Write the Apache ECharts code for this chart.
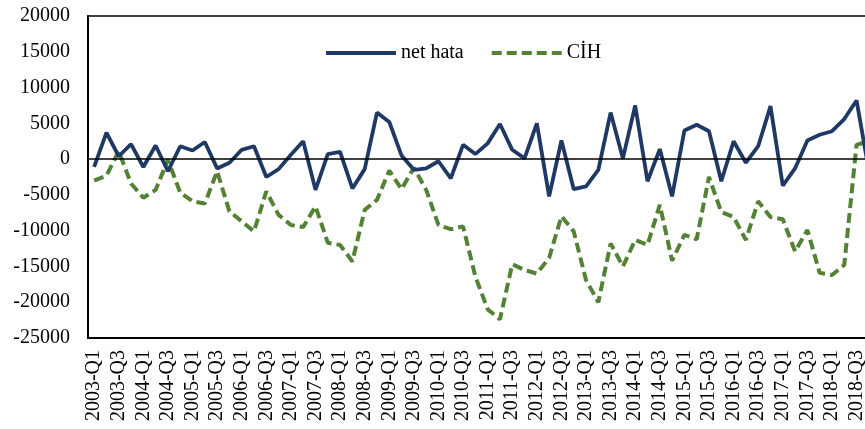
<!DOCTYPE html>
<html>
<head>
<meta charset="utf-8">
<script src="https://cdn.jsdelivr.net/npm/echarts@6/dist/echarts.min.js"></script>
<style>
  html, body { margin: 0; padding: 0; background: #fff; overflow: hidden; }
  /* the plot runs a little past the right edge of the window */
  #chart { width: 875px; height: 429px; }
</style>
</head>
<body>
<div id="chart"></div>
<script>
// Quarterly periods, 2003-Q1 .. 2018-Q4
const quarters = [
  '2003-Q1','2003-Q2','2003-Q3','2003-Q4','2004-Q1','2004-Q2','2004-Q3','2004-Q4',
  '2005-Q1','2005-Q2','2005-Q3','2005-Q4','2006-Q1','2006-Q2','2006-Q3','2006-Q4',
  '2007-Q1','2007-Q2','2007-Q3','2007-Q4','2008-Q1','2008-Q2','2008-Q3','2008-Q4',
  '2009-Q1','2009-Q2','2009-Q3','2009-Q4','2010-Q1','2010-Q2','2010-Q3','2010-Q4',
  '2011-Q1','2011-Q2','2011-Q3','2011-Q4','2012-Q1','2012-Q2','2012-Q3','2012-Q4',
  '2013-Q1','2013-Q2','2013-Q3','2013-Q4','2014-Q1','2014-Q2','2014-Q3','2014-Q4',
  '2015-Q1','2015-Q2','2015-Q3','2015-Q4','2016-Q1','2016-Q2','2016-Q3','2016-Q4',
  '2017-Q1','2017-Q2','2017-Q3','2017-Q4','2018-Q1','2018-Q2','2018-Q3','2018-Q4'
];

// Net errors and omissions
const netHata = [
  -1100, 3700, 400, 2100, -1100, 1900, -1700, 1800, 1200, 2400,
  -1300, -500, 1300, 1800, -2500, -1400, 600, 2500, -4300, 700,
  1000, -4100, -1400, 6500, 5200, 500, -1500, -1300, -300, -2700,
  2000, 700, 2200, 4900, 1300, 100, 5000, -5200, 2600, -4200,
  -3800, -1500, 6500, 100, 7500, -3100, 1400, -5200, 4000, 4800,
  3900, -3100, 2500, -500, 1800, 7400, -3700, -1300, 2600, 3400,
  3900, 5600, 8200, -1600
];

// Current account balance
const cih = [
  -3000, -2300, 1100, -3400, -5400, -4300, -100, -4700, -5900, -6200,
  -1700, -7300, -8700, -10100, -4500, -7800, -9200, -9500, -6600, -11700,
  -12000, -14300, -7100, -5700, -1600, -4200, -1200, -4300, -9200, -9800,
  -9400, -16400, -21000, -22400, -14700, -15500, -16000, -13800, -8000, -10100,
  -16900, -20000, -11800, -15000, -11300, -12000, -6400, -14200, -10600, -11200,
  -2500, -7400, -8100, -11300, -5900, -8100, -8400, -12900, -9900, -15900,
  -16200, -14800, 2000, 2500
];

const yMin = -25000, yMax = 20000, yStep = 5000;
const FONT = "'Liberation Serif', 'Times New Roman', serif";

const chart = echarts.init(document.getElementById('chart'), null, { renderer: 'canvas' });
chart.setOption({
  animation: false,
  backgroundColor: '#fff',
  textStyle: { fontFamily: FONT, color: '#000' },
  grid: {
    left: 88, top: 16, bottom: 91, right: 0,
    show: true, borderColor: '#000', borderWidth: 1.5, backgroundColor: 'transparent'
  },
  legend: {
    left: 319, top: 38,
    itemWidth: 70, itemHeight: 14, itemGap: 26,
    itemStyle: { opacity: 0 },
    lineStyle: { width: 4 },
    textStyle: { fontFamily: FONT, fontSize: 20, color: '#000' },
    data: ['net hata', 'CİH']
  },
  xAxis: {
    type: 'category',
    data: quarters,
    boundaryGap: true,
    axisLine: { onZero: false, lineStyle: { color: '#000', width: 2 } },
    axisTick: { show: false },
    axisLabel: {
      interval: 1, rotate: 90, margin: 12,
      fontFamily: FONT, fontSize: 20, color: '#000'
    },
    splitLine: { show: false }
  },
  yAxis: {
    type: 'value',
    min: yMin, max: yMax, interval: yStep,
    axisLine: { show: true, lineStyle: { color: '#000', width: 2 } },
    axisTick: { show: false },
    axisLabel: {
      margin: 18, fontFamily: FONT, fontSize: 20, color: '#000',
      formatter: v => String(v)
    },
    splitLine: { show: false }
  },
  series: [
    {
      name: 'net hata', type: 'line', data: netHata,
      symbol: 'none', smooth: false, z: 3,
      lineStyle: { color: '#1f3864', width: 3.8 },
      itemStyle: { color: '#1f3864' },
      markLine: {
        silent: true, symbol: 'none', label: { show: false },
        lineStyle: { color: '#000', width: 1.5, type: 'solid' },
        data: [{ yAxis: 0 }]
      }
    },
    {
      name: 'CİH', type: 'line', data: cih,
      symbol: 'none', smooth: false, z: 2,
      lineStyle: { color: '#548235', width: 4, type: [10, 5] },
      itemStyle: { color: '#548235' }
    }
  ]
});
</script>
</body>
</html>
